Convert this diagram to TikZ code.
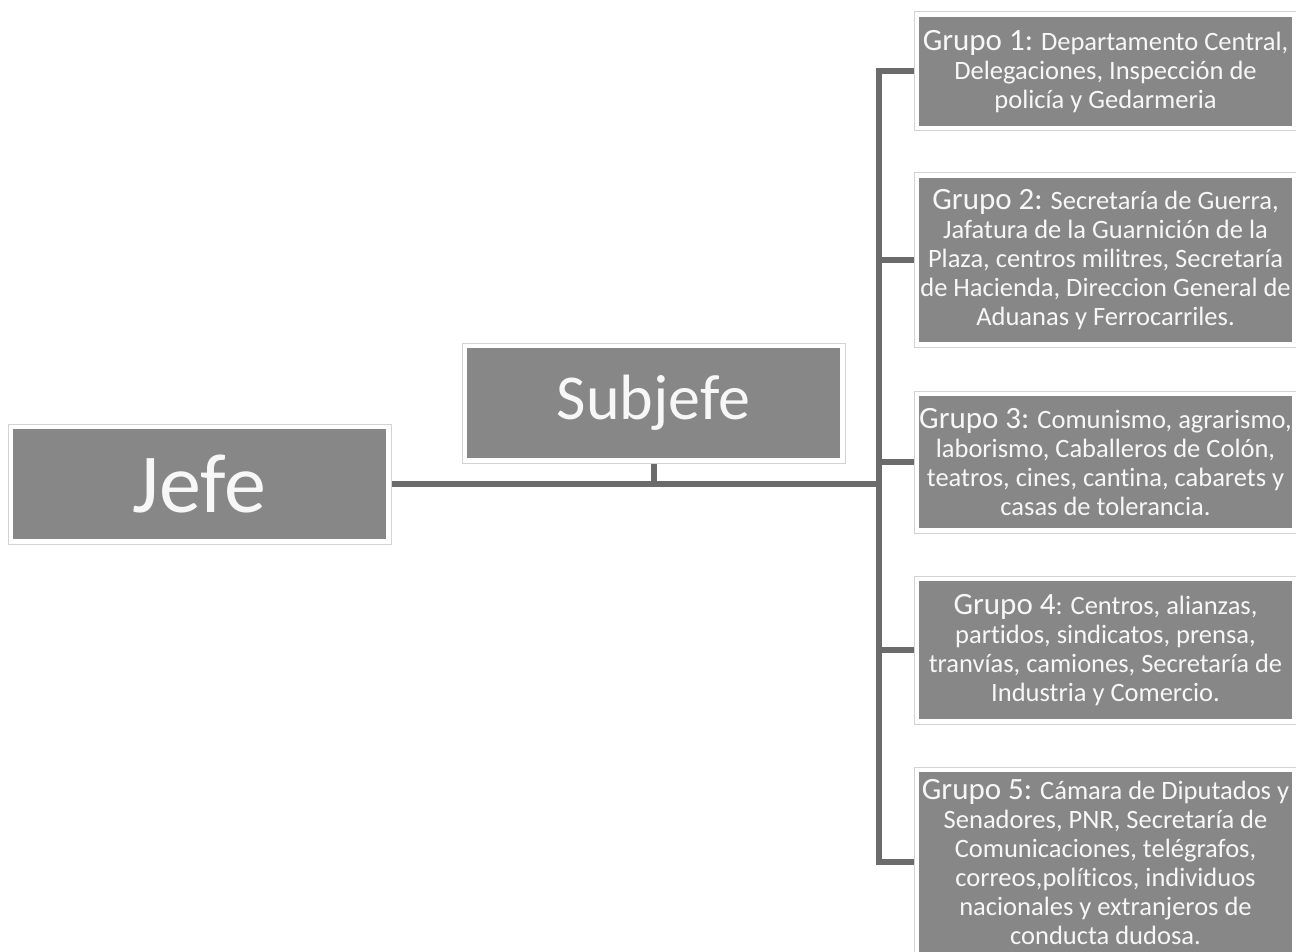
\documentclass[tikz,border=0pt]{standalone}
\usepackage{fontspec}
\setmainfont{Carlito}[Ligatures={NoCommon,NoContextual}]
\usetikzlibrary{backgrounds}
\definecolor{boxgray}{HTML}{878787}
\definecolor{framegray}{HTML}{D3D3D3}
\definecolor{linegray}{HTML}{6B6B6B}
\definecolor{textwhite}{HTML}{F7F7F7}
\tikzset{
  orgbox/.style={rectangle, fill=white, draw=framegray, line width=1pt,
    text=textwhite, inner sep=0pt, align=center, minimum width=383pt,
    path picture={\fill[boxgray]
      ([shift={(4.8pt,-4.8pt)}]path picture bounding box.north west) rectangle
      ([shift={(-4.8pt,4.8pt)}]path picture bounding box.south east);}},
  grptext/.style={font=\fontsize{26.5}{29}\selectfont},
  conn/.style={draw=linegray, line width=6pt},
}
\newcommand{\grp}[1]{{\fontsize{31}{29}\selectfont #1}}
\begin{document}
\begin{tikzpicture}[x=1pt,y=-1pt]
\useasboundingbox (0,0) rectangle (1296,952);
\clip (0,0) rectangle (1296,952);
\node[orgbox, minimum height=120pt, font=\fontsize{84}{90}\selectfont] (jefe) at (199.5,484) {Jefe};
\node[orgbox, minimum height=120pt, font=\fontsize{64}{70}\selectfont] (sub) at (653.5,403) {Subjefe};
\node[orgbox, grptext, minimum height=119pt] (g1) at (1105.5,71.5) {\grp{Grupo 1:} Departamento Central,\\Delegaciones, Inspección de\\policía y Gedarmeria};
\node[orgbox, grptext, minimum height=174pt] (g2) at (1105.5,260) {\grp{Grupo 2:} Secretaría de Guerra,\\Jafatura de la Guarnición de la\\Plaza, centros militres, Secretaría\\de Hacienda, Direccion General de\\Aduanas y Ferrocarriles.};
\node[orgbox, grptext, minimum height=142pt] (g3) at (1105.5,462) {\grp{Grupo 3:} Comunismo, agrarismo,\\laborismo, Caballeros de Colón,\\teatros, cines, cantina, cabarets y\\casas de tolerancia.};
\node[orgbox, grptext, minimum height=148pt] (g4) at (1105.5,650) {\grp{Grupo 4}: Centros, alianzas,\\partidos, sindicatos, prensa,\\tranvías, camiones, Secretaría de\\Industria y Comercio.};
\node[orgbox, grptext, minimum height=190pt] (g5) at (1105.5,862) {\grp{Grupo 5:} Cámara de Diputados y\\Senadores, PNR, Secretaría de\\Comunicaciones, telégrafos,\\correos,políticos, individuos\\nacionales y extranjeros de\\conducta dudosa.};
\coordinate (hub) at (879,484);
\begin{scope}[on background layer]
\fill[white] (0,0) rectangle (1296,952);
\draw[conn] (jefe.east) -- (hub);
\draw[conn] (sub.south) -- (sub.south |- hub);
\draw[conn] (g1.west) -| (hub);
\draw[conn] (g5.west) -| (hub);
\draw[conn] (g2.west) -- (g2.west -| hub);
\draw[conn] (g3.west) -- (g3.west -| hub);
\draw[conn] (g4.west) -- (g4.west -| hub);
\end{scope}
\end{tikzpicture}
\end{document}
